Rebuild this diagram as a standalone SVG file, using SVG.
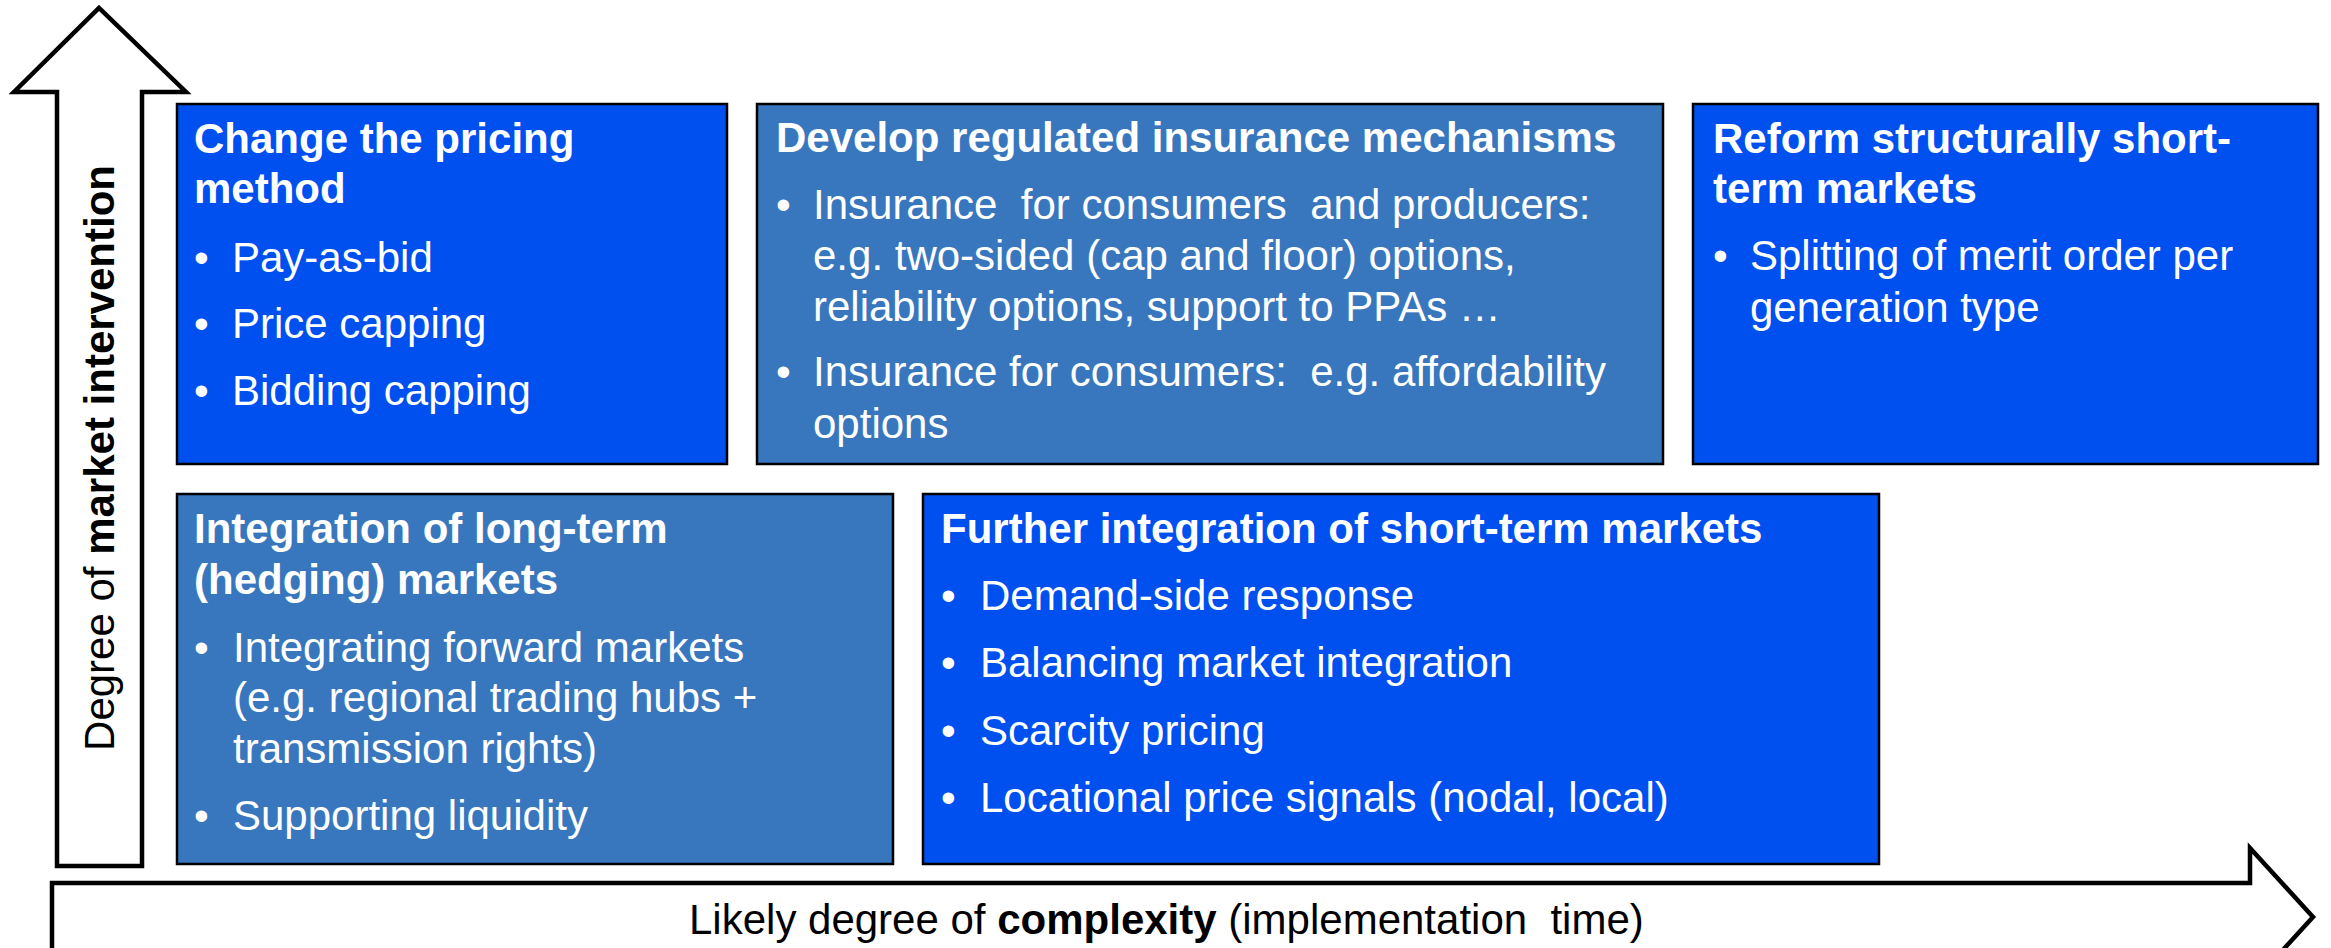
<svg xmlns="http://www.w3.org/2000/svg" width="2331" height="948" viewBox="0 0 2331 948">
<style>
.box{stroke:#000;stroke-width:2.5}
.b1{fill:#0050EF}
.b2{fill:#3877BE}
.t{font-family:"Liberation Sans",Arial,sans-serif;font-size:42px;fill:#fff;white-space:pre}
.h{font-weight:bold}
.ax{fill:#fff;stroke:#000;stroke-width:4.5;stroke-linejoin:miter}
.lab{font-family:"Liberation Sans",Arial,sans-serif;font-size:42px;fill:#000;white-space:pre}
</style>
<rect width="2331" height="948" fill="#fff"/>
<g id="connectors">
<polygon id="axis-y" class="ax" points="57,866 57,92 14,92 99,8 186,92 142,92 142,866"/>
<polygon id="axis-x" class="ax" points="52,883 2250,883 2250,848 2313,917 2250,986 2250,951 52,951"/>
<text class="lab" transform="translate(114,458) rotate(-90)" text-anchor="middle">Degree of <tspan font-weight="bold">market intervention</tspan></text>
<text class="lab" x="689" y="934" xml:space="preserve">Likely degree of <tspan font-weight="bold">complexity</tspan> (implementation  time)</text>
</g>
<g id="node-pricing">
<rect class="box b1" x="177" y="104" width="550" height="360"/>
<text class="t h" x="194" y="153">Change the pricing</text>
<text class="t h" x="194" y="203">method</text>
<text class="t" x="194" y="272">•</text><text class="t" x="232" y="272">Pay-as-bid</text>
<text class="t" x="194" y="338">•</text><text class="t" x="232" y="338">Price capping</text>
<text class="t" x="194" y="405">•</text><text class="t" x="232" y="405">Bidding capping</text>
</g>
<g id="node-insurance">
<rect class="box b2" x="757" y="104" width="906" height="360"/>
<text class="t h" x="776" y="152">Develop regulated insurance mechanisms</text>
<text class="t" x="776" y="219">•</text>
<text class="t" x="813" y="219" xml:space="preserve">Insurance  for consumers  and producers:</text>
<text class="t" x="813" y="270">e.g. two-sided (cap and floor) options,</text>
<text class="t" x="813" y="321">reliability options, support to PPAs …</text>
<text class="t" x="776" y="386">•</text>
<text class="t" x="813" y="386" xml:space="preserve">Insurance for consumers:  e.g. affordability</text>
<text class="t" x="813" y="438">options</text>
</g>
<g id="node-reform">
<rect class="box b1" x="1693" y="104" width="625" height="360"/>
<text class="t h" x="1713" y="153">Reform structurally short-</text>
<text class="t h" x="1713" y="203">term markets</text>
<text class="t" x="1713" y="270">•</text>
<text class="t" x="1750" y="270">Splitting of merit order per</text>
<text class="t" x="1750" y="322">generation type</text>
</g>
<g id="node-longterm">
<rect class="box b2" x="177" y="494" width="716" height="370"/>
<text class="t h" x="194" y="543">Integration of long-term</text>
<text class="t h" x="194" y="594">(hedging) markets</text>
<text class="t" x="194" y="662">•</text>
<text class="t" x="233" y="662">Integrating forward markets</text>
<text class="t" x="233" y="712">(e.g. regional trading hubs +</text>
<text class="t" x="233" y="763">transmission rights)</text>
<text class="t" x="194" y="830">•</text>
<text class="t" x="233" y="830">Supporting liquidity</text>
</g>
<g id="node-shortterm">
<rect class="box b1" x="923" y="494" width="956" height="370"/>
<text class="t h" x="941" y="543">Further integration of short-term markets</text>
<text class="t" x="941" y="610">•</text><text class="t" x="980" y="610">Demand-side response</text>
<text class="t" x="941" y="677">•</text><text class="t" x="980" y="677">Balancing market integration</text>
<text class="t" x="941" y="745">•</text><text class="t" x="980" y="745">Scarcity pricing</text>
<text class="t" x="941" y="812">•</text><text class="t" x="980" y="812">Locational price signals (nodal, local)</text>
</g>
</svg>
